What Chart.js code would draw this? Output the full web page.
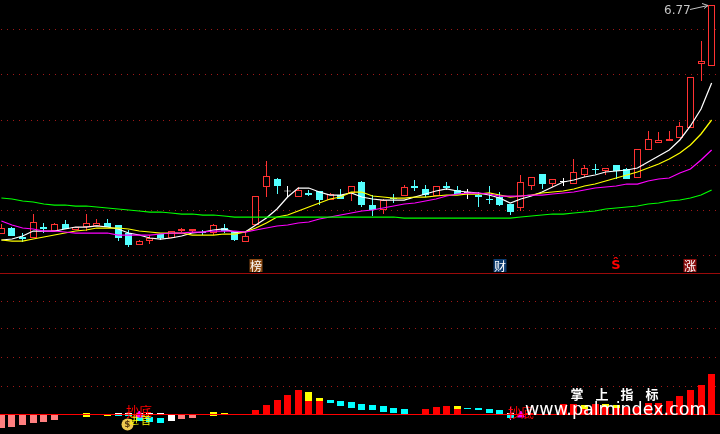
<!DOCTYPE html>
<html>
<head>
<meta charset="utf-8">
<style>
html, body { margin: 0; padding: 0; background: #000; overflow: hidden; }
canvas { position: absolute; left: 0; }
#priceChart { top: 0; }
#macdChart { top: 274px; }
</style>
<script src="https://cdn.jsdelivr.net/npm/chart.js@4"></script>
</head>
<body>
<canvas id="priceChart" width="720" height="274"></canvas>
<canvas id="macdChart" width="720" height="160"></canvas>
<script>
// candles, oldest first
var opens = [4.48,4.54,4.45,4.44,4.55,4.51,4.58,4.52,4.55,4.56,
    4.59,4.57,4.49,4.37,4.41,4.48,4.44,4.51,4.51,4.50,
    4.49,4.54,4.50,4.40,4.57,4.95,5.03,4.905,4.85,4.89,
    4.91,4.82,4.87,4.89,5.00,4.77,4.72,4.84,4.86,4.96,
    4.93,4.86,4.96,4.92,4.89,4.87,4.83,4.85,4.78,4.74,
    4.96,5.08,4.98,5.00,4.98,5.07,5.13,5.11,5.17,5.13,
    5.04,5.32,5.39,5.41,5.44,5.54,6.18,6.16];
var closes = [4.54,4.46,4.43,4.60,4.53,4.58,4.53,4.55,4.59,4.59,
    4.55,4.44,4.37,4.41,4.44,4.44,4.51,4.53,4.53,4.49,
    4.57,4.51,4.42,4.46,4.86,5.06,4.96,4.905,4.92,4.87,
    4.82,4.88,4.83,4.96,4.77,4.72,4.82,4.83,4.95,4.94,
    4.87,4.96,4.94,4.88,4.89,4.85,4.82,4.77,4.70,5.00,
    5.05,4.98,5.03,5.00,5.10,5.14,5.12,5.14,5.11,5.03,
    5.33,5.43,5.42,5.43,5.56,6.05,6.21,6.77];
var highs = [4.58,4.55,4.49,4.68,4.59,4.59,4.62,4.55,4.68,4.63,
    4.63,4.57,4.52,4.42,4.47,4.48,4.51,4.54,4.53,4.52,
    4.58,4.58,4.50,4.49,4.86,5.21,5.04,4.96,4.95,4.92,
    4.91,4.89,4.93,4.96,5.01,4.87,4.83,4.88,4.97,5.02,
    4.97,4.96,5.00,4.96,4.93,4.90,4.96,4.90,4.78,5.07,
    5.05,5.08,5.03,5.04,5.23,5.17,5.18,5.14,5.17,5.14,
    5.33,5.51,5.50,5.51,5.60,6.05,6.41,6.77];
var lows = [4.48,4.46,4.40,4.44,4.49,4.51,4.53,4.52,4.51,4.56,
    4.55,4.41,4.35,4.37,4.38,4.42,4.44,4.50,4.49,4.47,
    4.47,4.49,4.41,4.40,4.57,4.85,4.88,4.85,4.85,4.86,
    4.77,4.82,4.83,4.81,4.75,4.66,4.68,4.79,4.86,4.91,
    4.85,4.86,4.92,4.88,4.83,4.75,4.78,4.76,4.67,4.71,
    4.92,4.93,4.95,4.96,4.98,5.05,5.08,5.07,5.03,5.03,
    5.04,5.32,5.39,5.41,5.44,5.54,6.01,6.16];

// moving averages
var maWhite = [4.42,4.43,4.46,4.51,4.51,4.51,4.53,4.55,4.55,4.56,
    4.55,4.53,4.49,4.47,4.44,4.43,4.44,4.46,4.49,4.50,
    4.52,4.53,4.50,4.50,4.57,4.64,4.73,4.85,4.94,4.94,
    4.90,4.87,4.87,4.89,4.85,4.83,4.82,4.82,4.82,4.85,
    4.88,4.91,4.93,4.91,4.90,4.89,4.87,4.84,4.79,4.83,
    4.86,4.90,4.95,5.00,5.02,5.05,5.07,5.10,5.11,5.12,
    5.14,5.20,5.26,5.32,5.42,5.56,5.73,5.99];
var maYellow = [4.42,4.41,4.41,4.43,4.45,4.47,4.49,4.51,4.52,4.54,
    4.54,4.54,4.53,4.51,4.50,4.49,4.49,4.49,4.47,4.47,
    4.47,4.48,4.48,4.50,4.54,4.59,4.65,4.67,4.71,4.75,
    4.79,4.83,4.85,4.90,4.90,4.86,4.85,4.84,4.84,4.85,
    4.85,4.86,4.87,4.87,4.88,4.88,4.89,4.87,4.85,4.86,
    4.87,4.89,4.90,4.91,4.93,4.96,4.98,5.01,5.04,5.07,
    5.10,5.14,5.18,5.23,5.29,5.37,5.48,5.62];
var maMagenta = [4.61,4.57,4.54,4.53,4.51,4.51,4.50,4.49,4.49,4.49,
    4.49,4.47,4.47,4.47,4.47,4.48,4.49,4.49,4.50,4.50,
    4.51,4.51,4.51,4.50,4.52,4.54,4.56,4.57,4.59,4.60,
    4.63,4.65,4.67,4.69,4.71,4.72,4.74,4.76,4.78,4.79,
    4.81,4.83,4.86,4.88,4.89,4.89,4.88,4.86,4.86,4.86,
    4.87,4.87,4.88,4.89,4.90,4.92,4.94,4.95,4.96,4.98,
    4.98,5.01,5.03,5.04,5.09,5.13,5.22,5.32];
var maGreen = [4.84,4.83,4.81,4.80,4.78,4.77,4.77,4.76,4.76,4.75,
    4.74,4.73,4.72,4.71,4.70,4.70,4.69,4.68,4.68,4.67,
    4.67,4.66,4.65,4.65,4.65,4.65,4.65,4.65,4.65,4.65,
    4.65,4.65,4.65,4.65,4.65,4.65,4.65,4.65,4.64,4.64,
    4.64,4.64,4.64,4.64,4.64,4.64,4.64,4.64,4.64,4.65,
    4.66,4.67,4.68,4.68,4.69,4.70,4.71,4.73,4.74,4.75,
    4.76,4.78,4.79,4.81,4.82,4.84,4.87,4.92];

var priceLevels = [6.53, 6.07, 5.62, 5.17, 4.72, 4.27];
var priceSeparator = 4.085;
var peakLabel = '6.77';

// lower panel: [candle index, from, to]
var macdPink = [[0,-0.14,0],[1,-0.13,0],[2,-0.11,0],[3,-0.09,0],[4,-0.08,0],[5,-0.06,0],[17,-0.05,-0.01],[18,-0.04,-0.01]];
var macdRed = [[24,0,0.04],[25,0,0.09],[26,0,0.14],[27,0,0.19],[28,0,0.24],[29,0,0.13],[30,0,0.13],
    [40,0,0.05],[41,0,0.07],[42,0,0.08],[43,0,0.05],[53,0,0.10],[54,0,0.10],[55,0,0.05],[56,0,0.10],[57,0,0.07],[58,0,0.06],
    [59,0,0.07],[60,0,0.07],[61,0,0.11],[62,0,0.11],[63,0,0.13],[64,0,0.18],[65,0,0.24],[66,0,0.29],[67,0,0.40]];
var macdYellow = [[8,-0.03,0.01],[10,-0.02,-0.01],[20,-0.02,0.02],[21,0,0.01],[29,0.13,0.22],[30,0.13,0.16],
    [43,0.05,0.08],[55,0.05,0.09],[57,0.07,0.10],[58,0.06,0.09]];
var macdCyan = [[11,-0.02,-0.01],[12,-0.02,0],[13,-0.07,-0.01],[14,-0.08,-0.03],[15,-0.09,-0.04],
    [31,0.11,0.14],[32,0.08,0.13],[33,0.06,0.12],[34,0.04,0.10],[35,0.04,0.09],[36,0.02,0.08],[37,0.01,0.06],[38,0,0.05],
    [44,0.05,0.06],[45,0.04,0.06],[46,0.01,0.05],[47,0,0.04],[48,-0.04,0]];
var macdWhite = [[11,0,0.01],[12,0,0.01],[13,0,0.01],[14,0,0.01],[15,0,0.01],[16,-0.07,-0.01],[48,0,0.01]];
var macdSpike = [[13,-0.03,0.03],[48,-0.06,0.07]];
var macdTriangles = [[13,-0.01],[49,-0.01]];
var macdLevels = [1.13, 0.85, 0.56, 0.28];
var macdZeroLine = -0.005;

var xMin = -0.132, xMax = 67.79;
var RED = '#ff3232', CYAN = '#54ffff';
var MACD_TOP = 274;

function points(values) {
    return values.map(function (v, i) { return { x: i, y: v }; });
}

function spans(rows) {
    return rows.map(function (r) { return { x: r[0], y: [r[1], r[2]] }; });
}

function flatLine(value) {
    return [{ x: xMin, y: value }, { x: xMax, y: value }];
}

function candleColor(i, hollow) {
    if (closes[i] === opens[i]) return '#ffffff';
    if (closes[i] > opens[i]) return hollow ? '#000000' : RED;
    return CYAN;
}

function lineSet(data, color, width) {
    return {
        type: 'line', data: data, borderColor: color, borderWidth: width || 1.25,
        pointRadius: 0, tension: 0, order: 1
    };
}

function barSet(data, color, thickness, order) {
    return {
        type: 'bar', data: data, backgroundColor: color, borderWidth: 0, inflateAmount: 0,
        barThickness: thickness || 7, grouped: false, order: order || 2
    };
}

function axes(min, max, levels) {
    return {
        x: { type: 'linear', display: false, min: xMin, max: xMax, offset: false },
        y: {
            min: min, max: max,
            afterBuildTicks: function (axis) {
                axis.ticks = levels.map(function (v) { return { value: v }; });
            },
            ticks: { display: false },
            border: { display: false, dash: [1, 5], dashOffset: 5 },
            grid: { color: '#a01818', drawTicks: false, lineWidth: 1 }
        }
    };
}

// keep the bars on whole pixels, the original has no antialiasing
var snapBars = {
    id: 'snapBars',
    afterDatasetsUpdate: function (chart) {
        chart.data.datasets.forEach(function (ds, n) {
            var meta = chart.getDatasetMeta(n);
            if (meta.type !== 'bar') return;
            meta.data.forEach(function (el) { el.x = Math.floor(el.x) + 0.5; });
        });
    }
};

var priceMarks = [
    { at: 24, text: '榜', bg: '#8b4a12', color: '#ffffff' },
    { at: 47, text: '财', bg: '#0d3b6e', color: '#ffffff' },
    { at: 58, text: 'Ŝ', bg: null, color: '#ff0000' },
    { at: 65, text: '涨', bg: '#8b0f0f', color: '#ffffff' }
];

var priceNotes = {
    id: 'priceNotes',
    afterDraw: function (chart) {
        var ctx = chart.ctx;
        ctx.save();
        ctx.textAlign = 'center';
        ctx.textBaseline = 'middle';
        priceMarks.forEach(function (m) {
            var px = Math.round(chart.scales.x.getPixelForValue(m.at));
            if (m.bg) {
                ctx.fillStyle = m.bg;
                ctx.fillRect(px - 6.5, 259, 13, 13);
            }
            ctx.fillStyle = m.color;
            ctx.font = m.bg ? '12px "Noto Sans CJK SC"' : 'bold 13px "DejaVu Sans"';
            ctx.fillText(m.text, px, 266);
        });
        ctx.textAlign = 'left';
        ctx.fillStyle = '#c4c4c4';
        ctx.font = '12px "DejaVu Sans"';
        ctx.fillText(peakLabel, 664, 11);
        ctx.strokeStyle = '#c4c4c4';
        ctx.lineWidth = 1;
        ctx.beginPath();
        ctx.moveTo(690, 9.5);
        ctx.lineTo(708, 5.5);
        ctx.moveTo(702, 3.5);
        ctx.lineTo(708, 5.5);
        ctx.lineTo(704, 8.5);
        ctx.stroke();
        ctx.restore();
    }
};

var macdNotes = {
    id: 'macdNotes',
    afterDraw: function (chart) {
        var ctx = chart.ctx, top = MACD_TOP;
        ctx.save();
        ctx.textAlign = 'center';
        ctx.textBaseline = 'middle';
        // money bag
        ctx.fillStyle = '#f0c850';
        ctx.beginPath();
        ctx.arc(127.5, 424.5 - top, 6, 0, Math.PI * 2);
        ctx.fill();
        ctx.fillStyle = '#5a3a10';
        ctx.font = 'bold 9px "DejaVu Sans"';
        ctx.fillText('$', 127.5, 425 - top);
        // signal words
        ctx.fillStyle = '#ff0000';
        ctx.font = '13px "Noto Sans CJK SC"';
        ctx.fillText('抄底', 139, 411 - top);
        ctx.fillText('抄底', 521, 412 - top);
        ctx.fillStyle = '#ffff00';
        ctx.font = '10px "Noto Sans CJK SC"';
        ctx.fillText('进', 134, 420 - top);
        ctx.fillText('首', 146, 420 - top);
        // site mark
        ctx.fillStyle = '#ffffff';
        ctx.font = 'bold 13px "Noto Sans CJK SC"';
        ctx.fillText('掌', 577, 394 - top);
        ctx.fillText('上', 602, 394 - top);
        ctx.fillText('指', 627, 394 - top);
        ctx.fillText('标', 652, 394 - top);
        ctx.font = '17.5px "DejaVu Sans"';
        ctx.textAlign = 'left';
        ctx.textBaseline = 'alphabetic';
        ctx.fillText('www.palmindex.com', 525, 415 - top);
        ctx.restore();
    }
};

var candleIdx = opens.map(function (v, i) { return i; });

new Chart(document.getElementById('priceChart'), {
    type: 'bar',
    data: {
        datasets: [
            lineSet(flatLine(priceSeparator), '#9a0a0a', 1),
            lineSet(points(maGreen), '#00ff00'),
            lineSet(points(maMagenta), '#ff00ff'),
            lineSet(points(maYellow), '#ffff00'),
            lineSet(points(maWhite), '#ffffff'),
            {
                type: 'bar',
                data: candleIdx.map(function (i) { return { x: i, y: [Math.min(opens[i], closes[i]), Math.max(opens[i], closes[i])] }; }),
                backgroundColor: candleIdx.map(function (i) { return candleColor(i, true); }),
                borderColor: candleIdx.map(function (i) { return candleColor(i, false); }),
                borderWidth: 1, borderSkipped: false, barThickness: 7, minBarLength: 1, inflateAmount: 0,
                grouped: false, order: 2
            },
            {
                type: 'bar',
                data: candleIdx.map(function (i) { return { x: i, y: [lows[i], highs[i]] }; }),
                backgroundColor: candleIdx.map(function (i) { return candleColor(i, false); }),
                borderWidth: 0, barThickness: 1, inflateAmount: 0, grouped: false, order: 3
            }
        ]
    },
    options: {
        responsive: false, animation: false,
        layout: { padding: 0, autoPadding: false },
        plugins: { legend: { display: false }, tooltip: { enabled: false } },
        scales: axes(4.08, 6.82, priceLevels)
    },
    plugins: [snapBars, priceNotes]
});

new Chart(document.getElementById('macdChart'), {
    type: 'bar',
    data: {
        datasets: [
            lineSet(flatLine(macdZeroLine), '#ff0000', 1),
            {
                type: 'line', data: macdTriangles.map(function (r) { return { x: r[0], y: r[1] }; }),
                showLine: false, pointStyle: 'triangle', pointRadius: 4,
                pointBackgroundColor: '#ff00ff', pointBorderColor: '#ff00ff', order: 1
            },
            barSet(spans(macdSpike), '#ff40ff', 1, 1),
            barSet(spans(macdPink), '#ff8080'),
            barSet(spans(macdRed), '#ff0000'),
            barSet(spans(macdYellow), '#ffff00'),
            barSet(spans(macdCyan), '#00ffff'),
            barSet(spans(macdWhite), '#ffffff')
        ]
    },
    options: {
        responsive: false, animation: false,
        layout: { padding: 0, autoPadding: false },
        plugins: { legend: { display: false }, tooltip: { enabled: false } },
        scales: axes(-0.20, 1.40, macdLevels)
    },
    plugins: [snapBars, macdNotes]
});
</script>
</body>
</html>
